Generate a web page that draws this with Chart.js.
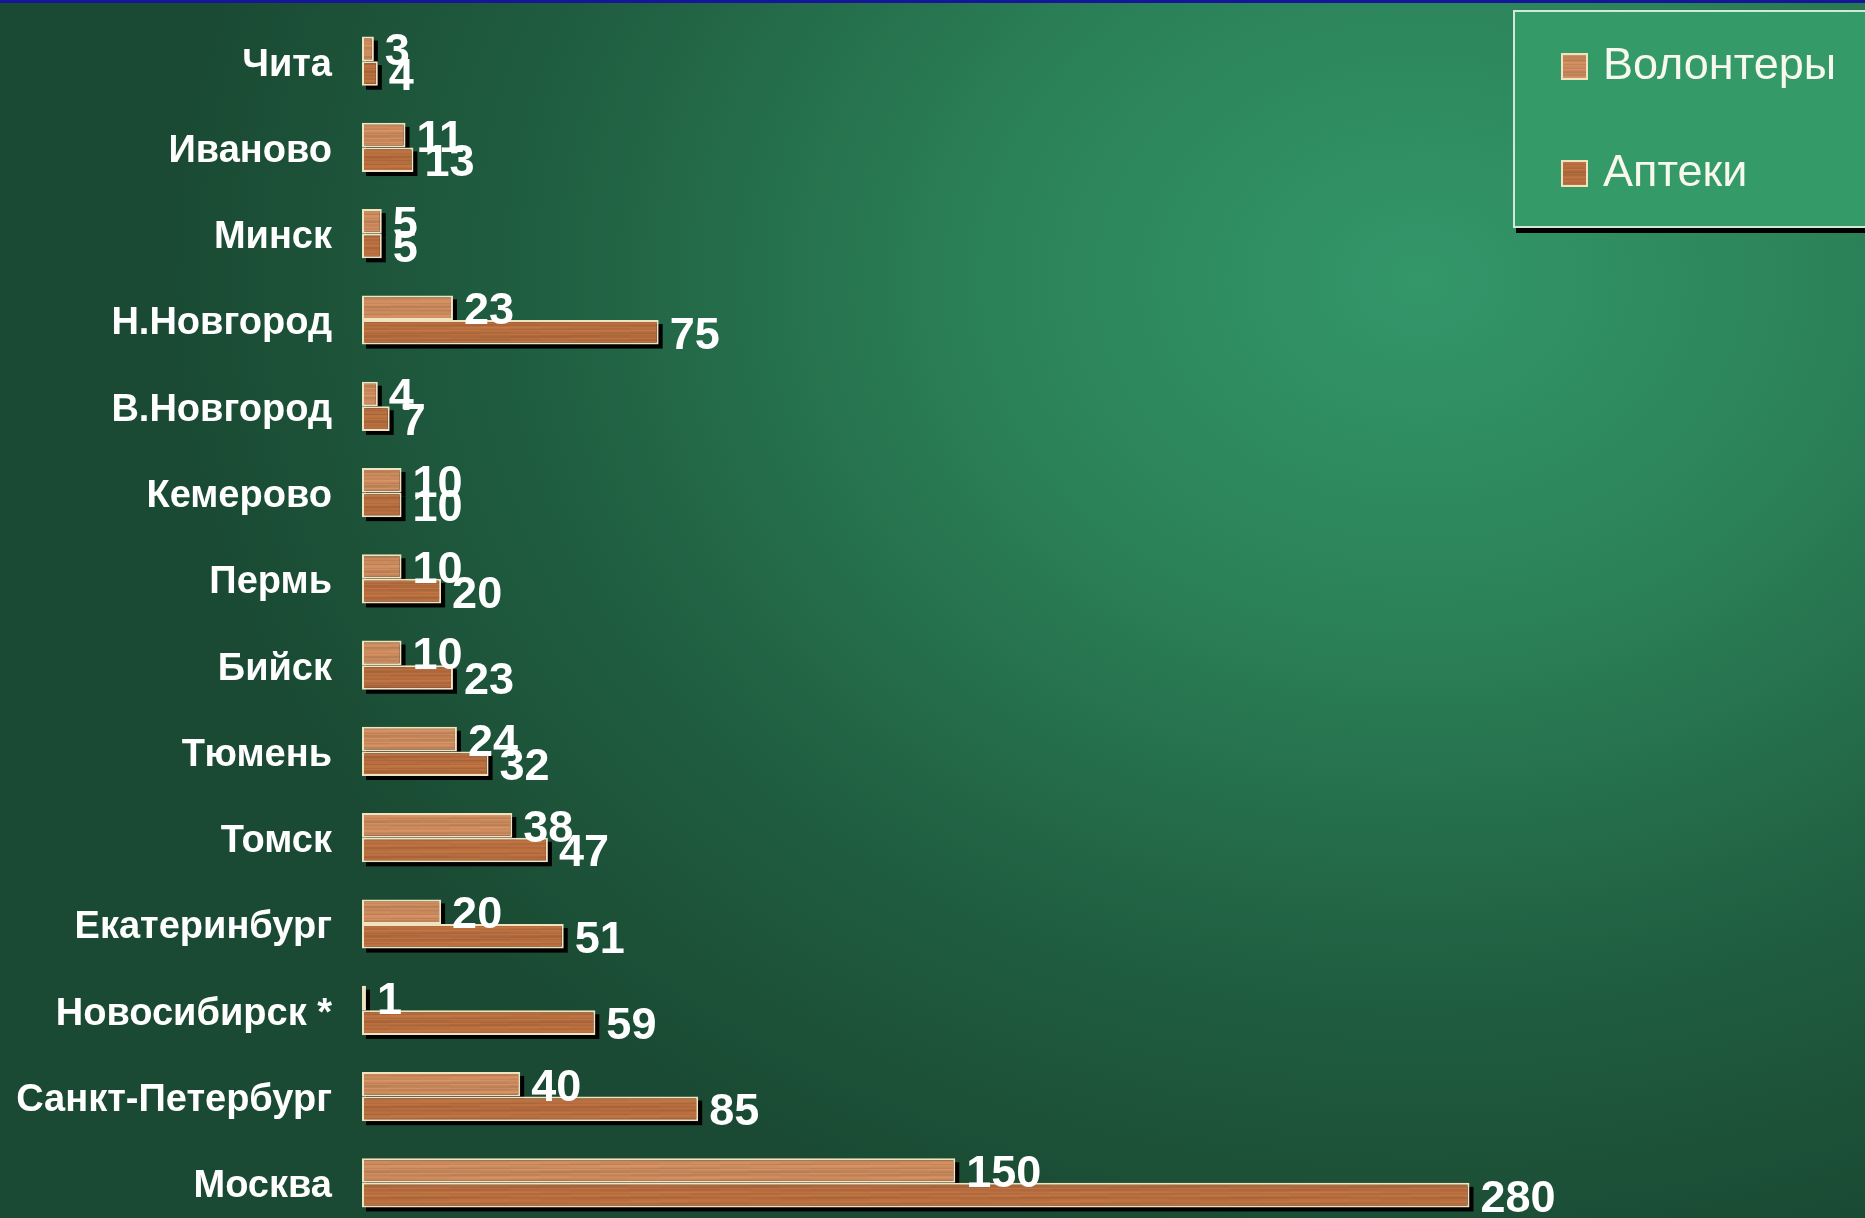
<!DOCTYPE html>
<html>
<head>
<meta charset="utf-8">
<script src="https://cdn.jsdelivr.net/npm/chart.js@4"></script>
<style>
  html, body { margin: 0; padding: 0; overflow: hidden; }
  body {
    width: 1865px; height: 1218px;
    background:
      linear-gradient(#16169a, #16169a) top left / 100% 3px no-repeat,
      radial-gradient(ellipse 1250px 1000px at 1420px 280px, #33976a 0%, #2b8158 35%, #205f41 70%, #1a4a33 100%);
  }
  canvas { display: block; }
</style>
</head>
<body>
<canvas id="graph" width="1865" height="1232"></canvas>
<script>
var categories = ['Чита', 'Иваново', 'Минск', 'Н.Новгород', 'В.Новгород', 'Кемерово', 'Пермь',
  'Бийск', 'Тюмень', 'Томск', 'Екатеринбург', 'Новосибирск *', 'Санкт-Петербург', 'Москва'];
var volunteers = [3, 11, 5, 23, 4, 10, 10, 10, 24, 38, 20, 1, 40, 150];
var pharmacies = [4, 13, 5, 75, 7, 10, 20, 23, 32, 47, 51, 59, 85, 280];
var seriesNames = ['Волонтеры', 'Аптеки'];

// wood-ish texture, streaks from fixed sine mix
function woodPattern(r, g, b) {
  var c = document.createElement('canvas');
  c.width = 420; c.height = 50;
  var x = c.getContext('2d');
  for (var y = 0; y < c.height; y++) {
    var v = 0.5 * Math.sin(y * 1.7) + 0.35 * Math.sin(y * 0.45 + 1) + 0.25 * Math.sin(y * 3.3 + 2);
    for (var s = 0; s < c.width; s += 30) {
      var w = v + 0.3 * Math.sin(s * 0.031 + y * 0.9);
      var k = 1 + w * 0.09;
      x.fillStyle = 'rgb(' + Math.round(r * k) + ',' + Math.round(g * k) + ',' + Math.round(b * k) + ')';
      x.fillRect(s, y, 30, 1);
    }
  }
  return x.createPattern(c, 'repeat');
}
var woodLight = woodPattern(200, 136, 92);
var woodDark = woodPattern(180, 108, 62);

var shadowPlugin = {
  id: 'barShadows',
  beforeDatasetsDraw: function (chart) {
    var ctx = chart.ctx;
    ctx.save();
    ctx.fillStyle = '#000';
    chart.data.datasets.forEach(function (ds, i) {
      chart.getDatasetMeta(i).data.forEach(function (bar) {
        var h = bar.height;
        ctx.fillRect(bar.base + 4, bar.y - h / 2 + 4, bar.x - bar.base, h);
      });
    });
    ctx.restore();
  }
};

var valueLabels = {
  id: 'valueLabels',
  afterDatasetsDraw: function (chart) {
    var ctx = chart.ctx;
    ctx.save();
    ctx.font = 'bold 45px "Liberation Sans", Arial, sans-serif';
    ctx.fillStyle = '#ffffff';
    ctx.textAlign = 'left';
    ctx.textBaseline = 'middle';
    chart.data.datasets.forEach(function (ds, i) {
      chart.getDatasetMeta(i).data.forEach(function (bar, j) {
        ctx.fillText(ds.data[j], bar.x + 11, bar.y + 4);
      });
    });
    ctx.restore();
  }
};

var boxLegend = {
  id: 'boxLegend',
  afterDraw: function (chart) {
    var ctx = chart.ctx;
    ctx.save();
    ctx.fillStyle = '#000';
    ctx.fillRect(1516, 13, 360, 220);
    ctx.fillStyle = '#349a68';
    ctx.fillRect(1513, 10, 360, 218);
    ctx.strokeStyle = '#d2e8d8';
    ctx.lineWidth = 2;
    ctx.strokeRect(1514, 11, 360, 216);
    var ys = [66, 173];
    ctx.font = '45px "Liberation Sans", Arial, sans-serif';
    ctx.textBaseline = 'middle';
    chart.data.datasets.forEach(function (ds, i) {
      ctx.fillStyle = ds.backgroundColor;
      ctx.fillRect(1561, ys[i] - 13, 27, 27);
      ctx.strokeStyle = '#efe3c0';
      ctx.strokeRect(1562, ys[i] - 12, 25, 25);
      ctx.fillStyle = '#f8f8ee';
      ctx.fillText(ds.label, 1603, ys[i] + 1);
    });
    ctx.restore();
  }
};

var config = {
  type: 'bar',
  data: {
    labels: categories,
    datasets: [{
      label: seriesNames[0],
      data: volunteers,
      backgroundColor: woodLight
    }, {
      label: seriesNames[1],
      data: pharmacies,
      backgroundColor: woodDark
    }]
  },
  options: {
    indexAxis: 'y',
    responsive: false,
    animation: false,
    layout: { padding: { top: 18, bottom: 6, left: 0, right: 0 } },
    datasets: {
      bar: {
        categoryPercentage: 0.57,
        barPercentage: 1.0,
        borderWidth: 2,
        borderColor: '#efe3c0',
        borderSkipped: false
      }
    },
    scales: {
      x: { display: false, min: 0, max: 380 },
      y: {
        grid: { display: false, drawTicks: false },
        border: { display: false },
        afterFit: function (s) {
          s.width = 362;
          s.paddingTop = 0;
          s.paddingBottom = 0;
        },
        ticks: {
          padding: 30,
          labelOffset: 4,
          color: '#ffffff',
          font: { family: '"Liberation Sans", Arial, sans-serif', size: 38, weight: 'bold' }
        }
      }
    },
    plugins: {
      legend: { display: false },
      tooltip: { enabled: false }
    }
  },
  plugins: [shadowPlugin, valueLabels, boxLegend]
};

var myChart = new Chart(document.getElementById('graph'), config);
</script>
</body>
</html>
